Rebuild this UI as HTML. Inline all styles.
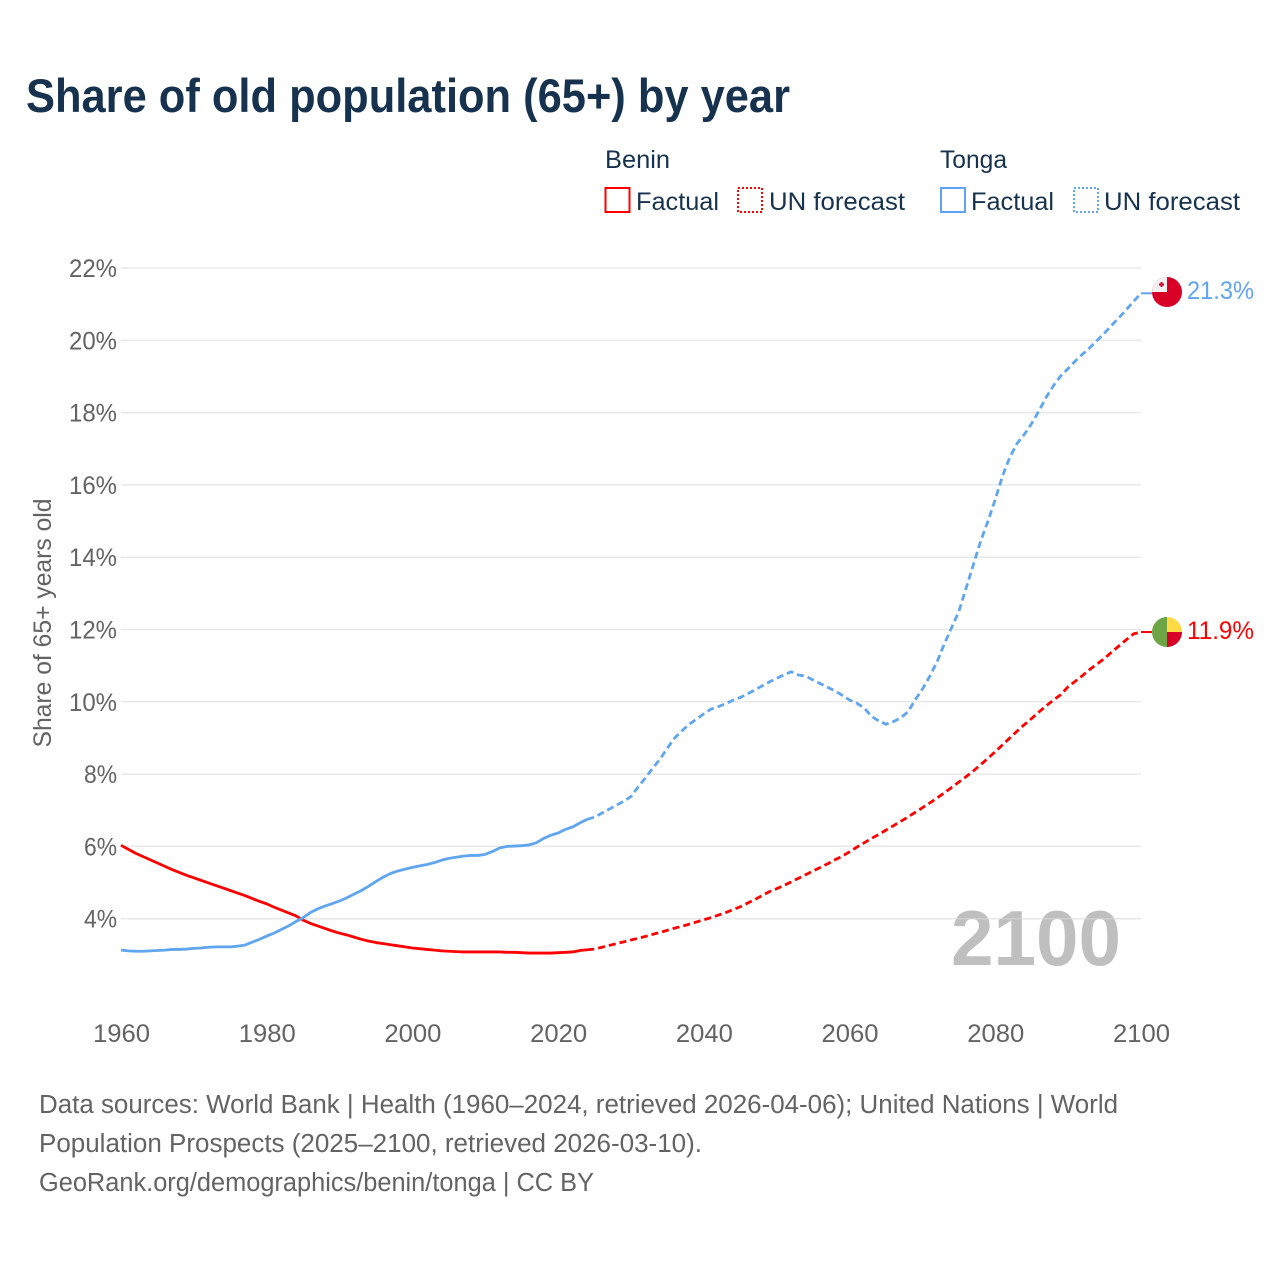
<!DOCTYPE html>
<html lang="en">
<head>
<meta charset="utf-8">
<title>Share of old population (65+) by year</title>
<style>
html,body{margin:0;padding:0;background:#fff;width:1280px;height:1280px;overflow:hidden}
svg{display:block}
text{font-family:"Liberation Sans",sans-serif}
</style>
</head>
<body>
<svg id="chart" xmlns="http://www.w3.org/2000/svg" width="1280" height="1280" viewBox="0 0 1280 1280">
  <rect width="1280" height="1280" fill="#fff"/>
  <text x="26" y="112" font-size="47" font-weight="700" fill="#17324f" textLength="764" lengthAdjust="spacingAndGlyphs">Share of old population (65+) by year</text>

  <g>
    <text x="605" y="168" font-size="25" fill="#17324f" textLength="65" lengthAdjust="spacingAndGlyphs">Benin</text>
    <rect x="605.5" y="188" width="24" height="24" fill="none" stroke="#ff0000" stroke-width="2"/>
    <text x="636" y="210" font-size="25" fill="#17324f" textLength="83" lengthAdjust="spacingAndGlyphs">Factual</text>
    <rect x="738" y="188" width="24" height="24" fill="none" stroke="#ff0000" stroke-width="2" stroke-dasharray="2 2"/>
    <text x="769" y="210" font-size="25" fill="#17324f" textLength="136" lengthAdjust="spacingAndGlyphs">UN forecast</text>

    <text x="940" y="168" font-size="25" fill="#17324f" textLength="67" lengthAdjust="spacingAndGlyphs">Tonga</text>
    <rect x="941" y="188" width="24" height="24" fill="none" stroke="#60a5ef" stroke-width="2"/>
    <text x="971" y="210" font-size="25" fill="#17324f" textLength="83" lengthAdjust="spacingAndGlyphs">Factual</text>
    <rect x="1074" y="188" width="24" height="24" fill="none" stroke="#60a5ef" stroke-width="2" stroke-dasharray="2 2"/>
    <text x="1104" y="210" font-size="25" fill="#17324f" textLength="136" lengthAdjust="spacingAndGlyphs">UN forecast</text>
  </g>

  <text transform="translate(51,623) rotate(-90)" text-anchor="middle" font-size="25" fill="#636363" textLength="249" lengthAdjust="spacingAndGlyphs">Share of 65+ years old</text>

  <text x="951" y="965" font-size="78" font-weight="700" fill="#bfbfbf" textLength="170" lengthAdjust="spacingAndGlyphs">2100</text>

  <g id="grid"></g>
  <g id="yticks"></g>
  <g id="xticks"></g>
  <g id="series"></g>

  <g id="flag-tonga">
    <clipPath id="clip-tonga"><circle cx="1167" cy="292" r="15"/></clipPath>
    <g clip-path="url(#clip-tonga)">
      <rect x="1152" y="277" width="30" height="30" fill="#d80027"/>
      <rect x="1152" y="277" width="15" height="15" fill="#f0f0f0"/>
      <rect x="1159" y="283.5" width="5" height="2" fill="#d80027"/>
      <rect x="1160.5" y="282" width="2" height="5" fill="#d80027"/>
    </g>
  </g>
  <text x="1187" y="299" font-size="25" fill="#60a5ef" textLength="67" lengthAdjust="spacingAndGlyphs">21.3%</text>

  <g id="flag-benin">
    <clipPath id="clip-benin"><circle cx="1167" cy="632" r="15"/></clipPath>
    <g clip-path="url(#clip-benin)">
      <rect x="1152" y="617" width="15" height="30" fill="#6da544"/>
      <rect x="1167" y="617" width="15" height="15" fill="#ffda44"/>
      <rect x="1167" y="632" width="15" height="15" fill="#d80027"/>
    </g>
  </g>
  <text x="1187" y="639" font-size="25" fill="#ff0000" textLength="67" lengthAdjust="spacingAndGlyphs">11.9%</text>

  <g font-size="25.5" fill="#636363">
    <text x="39" y="1113" textLength="1079" lengthAdjust="spacingAndGlyphs">Data sources: World Bank | Health (1960–2024, retrieved 2026-04-06); United Nations | World</text>
    <text x="39" y="1152" textLength="663" lengthAdjust="spacingAndGlyphs">Population Prospects (2025–2100, retrieved 2026-03-10).</text>
    <text x="39" y="1191" textLength="555" lengthAdjust="spacingAndGlyphs">GeoRank.org/demographics/benin/tonga | CC BY</text>
  </g>
</svg>

<script>
const yTickValues = [4, 6, 8, 10, 12, 14, 16, 18, 20, 22];
const xTickYears = [1960, 1980, 2000, 2020, 2040, 2060, 2080, 2100];
const factualStartYear = 1960;
const forecastStartYear = 2025;

const beninFactual = [
  6.03, 5.92, 5.81, 5.72, 5.63, 5.54, 5.45, 5.36, 5.28, 5.20,
  5.13, 5.06, 4.99, 4.92, 4.85, 4.78, 4.71, 4.64, 4.56, 4.48,
  4.41, 4.32, 4.24, 4.16, 4.08, 3.96, 3.87, 3.80, 3.73, 3.66,
  3.60, 3.55, 3.49, 3.43, 3.38, 3.34, 3.31, 3.28, 3.25, 3.22,
  3.19, 3.17, 3.15, 3.13, 3.11, 3.10, 3.09, 3.08, 3.08, 3.08,
  3.08, 3.08, 3.08, 3.07, 3.07, 3.06, 3.05, 3.05, 3.05, 3.05,
  3.06, 3.07, 3.08, 3.12, 3.14
];
const beninForecast = [
  3.16, 3.21, 3.26, 3.31, 3.36, 3.41, 3.46, 3.51, 3.57, 3.62,
  3.68, 3.74, 3.79, 3.85, 3.91, 3.97, 4.03, 4.10, 4.17, 4.25,
  4.33, 4.43, 4.53, 4.64, 4.75, 4.83, 4.92, 5.02, 5.12, 5.22,
  5.32, 5.42, 5.52, 5.63, 5.73, 5.85, 5.98, 6.10, 6.22, 6.33,
  6.45, 6.57, 6.69, 6.81, 6.94, 7.07, 7.20, 7.34, 7.48, 7.63,
  7.78, 7.93, 8.09, 8.26, 8.44, 8.62, 8.81, 9.00, 9.19, 9.37,
  9.54, 9.72, 9.89, 10.05, 10.20, 10.42, 10.57, 10.73, 10.90, 11.05,
  11.20, 11.38, 11.55, 11.72, 11.88, 11.93
];
const tongaFactual = [
  3.13, 3.11, 3.10, 3.10, 3.11, 3.12, 3.13, 3.15, 3.15, 3.16,
  3.18, 3.19, 3.21, 3.22, 3.22, 3.22, 3.24, 3.27, 3.35, 3.43,
  3.52, 3.60, 3.70, 3.80, 3.92, 4.03, 4.17, 4.27, 4.35, 4.42,
  4.49, 4.58, 4.68, 4.78, 4.90, 5.03, 5.15, 5.25, 5.32, 5.37,
  5.42, 5.46, 5.50, 5.55, 5.62, 5.67, 5.70, 5.73, 5.75, 5.75,
  5.78, 5.86, 5.96, 6.00, 6.01, 6.02, 6.04, 6.10, 6.22, 6.31,
  6.37, 6.47, 6.54, 6.65, 6.75
];
const tongaForecast = [
  6.81, 6.92, 7.03, 7.14, 7.25, 7.38, 7.65, 7.90, 8.17, 8.42,
  8.72, 9.00, 9.20, 9.38, 9.52, 9.67, 9.80, 9.87, 9.95, 10.04,
  10.12, 10.22, 10.33, 10.44, 10.55, 10.65, 10.75, 10.83, 10.74, 10.71,
  10.60, 10.50, 10.40, 10.30, 10.18, 10.05, 9.96, 9.83, 9.60, 9.47,
  9.38, 9.45, 9.55, 9.72, 10.05, 10.35, 10.70, 11.10, 11.60, 12.05,
  12.50, 13.15, 13.80, 14.45, 15.00, 15.60, 16.25, 16.77, 17.15, 17.40,
  17.70, 18.05, 18.43, 18.75, 19.02, 19.22, 19.43, 19.62, 19.80, 20.00,
  20.20, 20.42, 20.63, 20.85, 21.08, 21.30
];

const SVGNS = 'http://www.w3.org/2000/svg';
const xOf = function (year) { return 121 + (year - 1960) * (1020 / 140); };
const yOf = function (value) { return 918.7 - (value - 4) * (650.7 / 18); };

function make(tag, parent) {
  const el = document.createElementNS(SVGNS, tag);
  parent.appendChild(el);
  return el;
}
function pathFrom(values, startYear, lead) {
  const pts = values.map(function (v, i) {
    return xOf(startYear + i).toFixed(2) + ' ' + yOf(v).toFixed(2);
  });
  if (lead) { pts.unshift(lead); }
  return 'M' + pts.join('L');
}

const gridG = document.getElementById('grid');
const yG = document.getElementById('yticks');
yTickValues.forEach(function (v) {
  const line = make('line', gridG);
  
  
  line.setAttribute('x1', 121);
  line.setAttribute('x2', 1141);
  line.setAttribute('y1', yOf(v));
  line.setAttribute('y2', yOf(v));
  line.setAttribute('stroke', '#d9d9d9');
  line.setAttribute('stroke-opacity', '0.6');
  line.setAttribute('stroke-width', '1.5');

  const t = make('text', yG);
  
  
  t.setAttribute('x', 117);
  t.setAttribute('y', yOf(v) + 9);
  t.setAttribute('text-anchor', 'end');
  t.setAttribute('font-size', '25');
  t.setAttribute('fill', '#636363');
  t.setAttribute('textLength', v < 10 ? 33 : 48);
  t.setAttribute('lengthAdjust', 'spacingAndGlyphs');
  t.textContent = v + '%';
});

const xG = document.getElementById('xticks');
xTickYears.forEach(function (yr) {
  const t = make('text', xG);
  
  
  t.setAttribute('x', xOf(yr) + 0.5);
  t.setAttribute('y', 1042);
  t.setAttribute('text-anchor', 'middle');
  t.setAttribute('font-size', '25');
  t.setAttribute('fill', '#636363');
  t.setAttribute('textLength', 57);
  t.setAttribute('lengthAdjust', 'spacingAndGlyphs');
  t.textContent = yr;
});

const seriesG = document.getElementById('series');

function lastPoint(values, startYear) {
  const i = values.length - 1;
  return xOf(startYear + i).toFixed(2) + ' ' + yOf(values[i]).toFixed(2);
}

const beninFactualPath = make('path', seriesG);


beninFactualPath.setAttribute('d', pathFrom(beninFactual, factualStartYear));
beninFactualPath.setAttribute('fill', 'none');
beninFactualPath.setAttribute('stroke', '#ff0000');
beninFactualPath.setAttribute('stroke-width', '2.8');
beninFactualPath.setAttribute('stroke-linejoin', 'round');

const beninForecastPath = make('path', seriesG);


beninForecastPath.setAttribute('d', pathFrom(beninForecast, forecastStartYear, lastPoint(beninFactual, factualStartYear)));
beninForecastPath.setAttribute('fill', 'none');
beninForecastPath.setAttribute('stroke', '#ff0000');
beninForecastPath.setAttribute('stroke-width', '2.8');
beninForecastPath.setAttribute('stroke-dasharray', '7 4');

const tongaFactualPath = make('path', seriesG);


tongaFactualPath.setAttribute('d', pathFrom(tongaFactual, factualStartYear));
tongaFactualPath.setAttribute('fill', 'none');
tongaFactualPath.setAttribute('stroke', '#60a5ef');
tongaFactualPath.setAttribute('stroke-width', '2.8');
tongaFactualPath.setAttribute('stroke-linejoin', 'round');

const tongaForecastPath = make('path', seriesG);


tongaForecastPath.setAttribute('d', pathFrom(tongaForecast, forecastStartYear, lastPoint(tongaFactual, factualStartYear)));
tongaForecastPath.setAttribute('fill', 'none');
tongaForecastPath.setAttribute('stroke', '#60a5ef');
tongaForecastPath.setAttribute('stroke-width', '2.8');
tongaForecastPath.setAttribute('stroke-dasharray', '7 4');

const beninConnector = make('line', seriesG);


beninConnector.setAttribute('x1', xOf(2100));
beninConnector.setAttribute('x2', 1152);
beninConnector.setAttribute('y1', yOf(beninForecast[beninForecast.length - 1]));
beninConnector.setAttribute('y2', yOf(beninForecast[beninForecast.length - 1]));
beninConnector.setAttribute('stroke', '#ff0000');
beninConnector.setAttribute('stroke-width', '2');

const tongaConnector = make('line', seriesG);


tongaConnector.setAttribute('x1', xOf(2100));
tongaConnector.setAttribute('x2', 1152);
tongaConnector.setAttribute('y1', yOf(tongaForecast[tongaForecast.length - 1]));
tongaConnector.setAttribute('y2', yOf(tongaForecast[tongaForecast.length - 1]));
tongaConnector.setAttribute('stroke', '#60a5ef');
tongaConnector.setAttribute('stroke-width', '2');
</script>
</body>
</html>
